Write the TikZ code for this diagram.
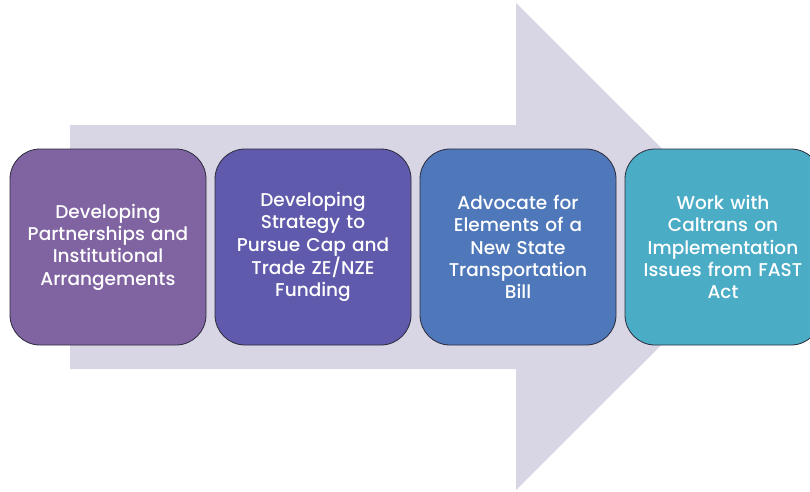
\documentclass[tikz,border=0pt]{standalone}
\usepackage{fontspec}
\setmainfont{Poppins Medium}
\usepackage{xcolor}
\usetikzlibrary{positioning}
\definecolor{arrowgray}{HTML}{D8D5E4}
\definecolor{stageA}{HTML}{8064A2}
\definecolor{stageB}{HTML}{5F5AAB}
\definecolor{stageC}{HTML}{4F78BA}
\definecolor{stageD}{HTML}{4BACC6}
\definecolor{edgegray}{HTML}{2B2B3B}
\tikzstyle{stage} = [draw=edgegray, line width=0.8pt, rounded corners=30pt, minimum width=196pt, minimum height=196pt, text width=190pt, align=center, text=white, font=\fontsize{18.5}{22.3}\selectfont, inner sep=0pt]

\begin{document}
\begin{tikzpicture}[x=1pt, y=-1pt]
    \useasboundingbox (0,0) rectangle (810,491);
    \clip (0,0) rectangle (810,491);
    % Big arrow behind
    \fill[arrowgray] (70,125) -- (516,125) -- (516,3) -- (760,246.5) -- (516,490) -- (516,369) -- (70,369) -- cycle;

    % Stages
    \node[stage, fill=stageA] (dev) at (108,247) {Developing\\Partnerships and\\Institutional\\Arrangements};
    \node[stage, fill=stageB, right=8.2pt of dev] (cap) {Developing\\Strategy to\\Pursue Cap and\\Trade ZE/NZE\\Funding};
    \node[stage, fill=stageC, right=8.2pt of cap] (bill) {Advocate for\\Elements of a\\New State\\Transportation\\Bill};
    \node[stage, fill=stageD, right=8.2pt of bill] (fast) {Work with\\Caltrans on\\Implementation\\Issues from FAST\\Act};
\end{tikzpicture}
\end{document}
